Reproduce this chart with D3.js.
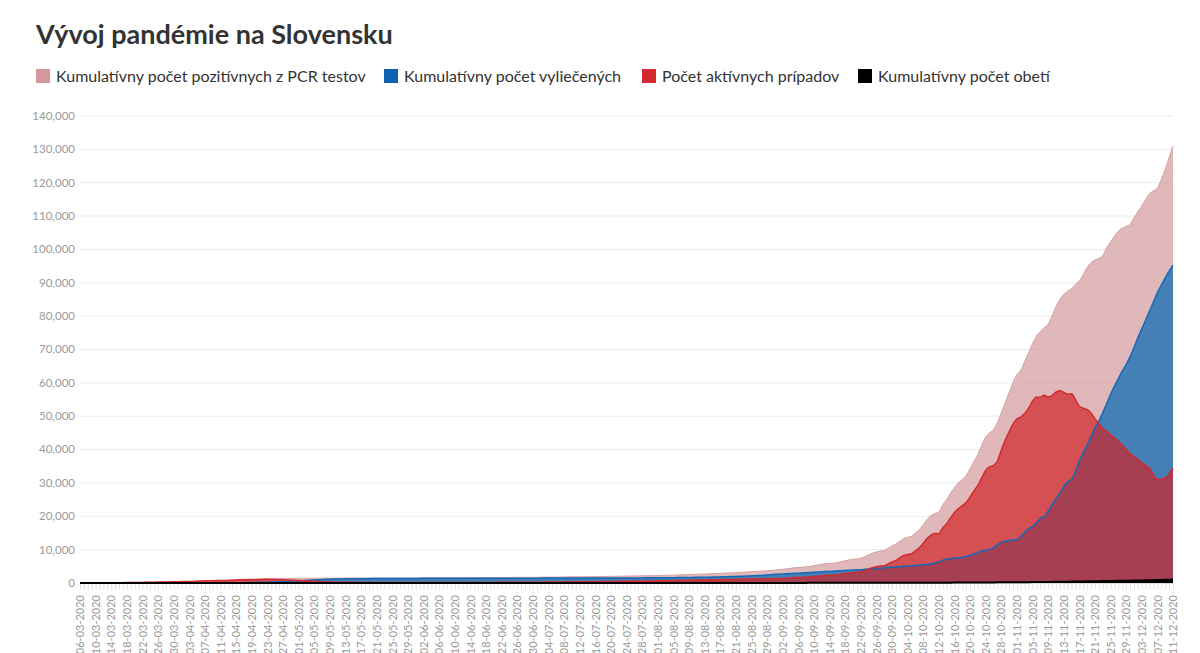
<!DOCTYPE html>
<html><head><meta charset="utf-8">
<script src="https://cdn.jsdelivr.net/npm/d3@7"></script>
<style>
body{margin:0;background:#fff;}
svg text{font-family:Lato,"Noto Sans",sans-serif;}
</style></head>
<body><svg id="chart" width="1200" height="653"></svg>
<script>
const titleText = "Vývoj pandémie na Slovensku";
const seriesNames = ["Kumulatívny počet pozitívnych z PCR testov","Kumulatívny počet vyliečených","Počet aktívnych prípadov","Kumulatívny počet obetí"];
const seriesColors = ["#d49a9c","#0f6db3","#ce2326","#000000"];
const legendColors = ["#d4979b","#0d62b3","#d42a2e","#000000"];
const yTicks = [0,10000,20000,30000,40000,50000,60000,70000,80000,90000,100000,110000,120000,130000,140000];
// daily categories 06-03-2020 .. 11-12-2020
const dates = d3.timeDay.range(new Date(2020,2,6), new Date(2020,11,12)).map(d3.timeFormat("%d-%m-%Y"));

const positive = [
1,3,5,7,7,10,21,32,44,61,72,105,123,137,178,185,186,204,216,226,269,292,314,336,363,400,
426,450,471,485,534,581,682,701,715,728,742,769,835,863,977,1045,1089,1161,1173,1199,1244,1325,1360,1373,1379,1381,1384,1391,1396,1403,
1408,1413,1421,1429,1437,1445,1455,1455,1457,1457,1465,1469,1480,1493,1495,1496,1502,1503,1504,1509,1511,1513,1513,1515,1515,1520,1520,1521,1522,1522,1528,
1530,1531,1531,1533,1535,1537,1541,1545,1552,1552,1556,1561,1565,1572,1589,1590,1597,1605,1616,1630,1643,1650,1657,1667,1677,1687,1690,1695,1698,1700,
1720,1730,1750,1765,1770,1780,1800,1820,1850,1860,1870,1880,1890,1900,1902,1930,1950,1960,1980,2000,2010,2030,2050,2080,2100,2120,2130,2150,2170,2180,2200,
2220,2250,2280,2320,2360,2400,2450,2500,2540,2580,2620,2660,2700,2750,2800,2850,2900,2950,3000,3050,3100,3180,3250,3320,3400,3460,3530,3600,3680,3780,3900,
4000,4100,4250,4400,4550,4650,4700,4850,5000,5200,5400,5600,5800,5850,5950,6150,6400,6650,6900,7100,7200,7400,7900,8400,8900,9300,9600,9750,10400,11100,
11700,12500,13300,13700,14000,15000,16000,17500,19000,20200,20800,21300,23400,25000,26900,28600,30000,31000,32200,34200,36400,38500,41300,43700,45000,46000,48100,51000,54000,57000,60000,
62400,63800,66300,69000,71700,74000,75400,76500,77600,80000,82800,85000,86500,87500,88200,89500,90600,92500,94500,96000,96800,97300,98200,100500,102200,104000,105500,106400,106900,107500,
109500,111300,113000,115000,116700,117600,118400,121000,124000,127500,131000
];
const recovered = [
0,0,0,0,0,0,0,0,0,0,0,0,0,0,0,0,0,0,2,2,2,2,3,3,3,3,
3,3,7,7,7,7,7,7,10,10,17,22,28,34,42,53,114,170,185,217,221,229,252,311,340,380,426,470,520,580,
640,700,780,850,920,980,1040,1090,1140,1180,1210,1230,1250,1260,1270,1280,1290,1300,1310,1320,1330,1340,1345,1350,1355,1360,1365,1370,1375,1380,1385,
1386,1388,1390,1392,1394,1396,1398,1400,1402,1404,1406,1408,1410,1412,1414,1416,1418,1420,1422,1424,1426,1428,1430,1433,1436,1440,1444,1448,1452,1456,
1460,1462,1464,1466,1468,1470,1472,1474,1476,1478,1480,1482,1484,1486,1488,1490,1492,1494,1496,1498,1500,1505,1510,1515,1520,1525,1530,1535,1540,1545,1550,
1560,1570,1580,1590,1600,1615,1630,1645,1660,1680,1700,1720,1740,1760,1790,1820,1850,1880,1910,1940,1980,2020,2060,2100,2150,2200,2250,2300,2400,2500,2600,
2650,2700,2760,2830,2900,2950,3000,3080,3150,3220,3300,3380,3430,3480,3550,3620,3700,3760,3830,3900,3950,4000,4100,4200,4300,4400,4450,4550,4650,4750,
4850,4900,5000,5100,5150,5250,5400,5500,5600,5750,5900,6400,6800,7100,7300,7450,7600,7750,7900,8300,8700,9100,9600,9800,10000,10600,11400,12100,12500,12700,12850,
13000,13900,15200,16300,16900,18000,19400,19900,21500,23500,25200,27000,28900,30400,31000,33500,36500,39000,41300,43800,46500,48500,51000,53800,56500,59000,61200,63500,65500,67800,
70500,73500,76200,78800,81500,84300,87000,89300,91500,93500,95300
];
const active = [
1,3,5,7,7,10,21,32,44,61,72,105,123,137,178,185,186,204,214,224,267,290,311,333,359,396,
422,446,463,477,526,573,674,692,703,716,723,745,805,827,933,990,969,980,976,969,1009,1082,1093,1047,1022,984,940,903,858,805,
750,695,619,556,493,440,390,339,291,250,228,212,203,206,198,189,184,175,166,161,153,145,140,137,132,132,127,123,119,114,115,
116,115,113,113,113,113,115,117,122,120,122,125,127,132,147,146,151,157,166,178,189,194,199,206,213,219,218,219,218,216,
232,240,258,271,274,282,300,318,346,354,362,370,378,386,386,412,430,438,456,474,481,496,511,536,550,565,570,584,599,604,619,
629,649,669,699,729,753,788,823,848,868,888,908,928,958,978,997,1017,1037,1057,1077,1087,1127,1157,1187,1217,1227,1247,1267,1247,1247,1267,
1317,1366,1455,1535,1614,1664,1663,1733,1812,1942,2061,2180,2329,2328,2357,2486,2655,2844,3022,3150,3199,3348,3747,4146,4545,4844,5093,5142,5690,6288,
6786,7534,8232,8530,8778,9675,10522,11918,13314,14360,14806,14802,16498,17793,19488,21033,22278,23122,24166,25760,27553,29246,31539,33732,34824,35216,36508,39800,42800,45300,47600,
49200,49700,50800,52400,54500,55700,55700,56300,55800,56200,57200,57600,57200,56600,56700,55000,53000,52400,52000,51000,49200,47800,46200,45500,44400,43500,42500,41300,40000,38700,
38000,37000,36000,35200,34300,32400,31000,31100,31500,32600,34400
];
const deaths = [
0,0,0,0,0,0,0,0,0,0,0,0,0,0,0,0,0,0,0,0,0,0,0,0,1,1,
1,1,1,1,1,1,1,2,2,2,2,2,2,2,2,2,6,11,12,13,14,14,15,15,17,17,18,18,18,18,
18,18,22,23,24,25,25,26,26,27,27,27,27,27,27,27,28,28,28,28,28,28,28,28,28,28,28,28,28,28,28,
28,28,28,28,28,28,28,28,28,28,28,28,28,28,28,28,28,28,28,28,28,28,28,28,28,28,28,28,28,28,
28,28,28,28,28,28,28,28,28,28,28,28,28,28,28,28,28,28,28,28,29,29,29,29,30,30,30,31,31,31,31,
31,31,31,31,31,32,32,32,32,32,32,32,32,32,32,33,33,33,33,33,33,33,33,33,33,33,33,33,33,33,33,
33,34,35,35,36,36,37,37,38,38,39,40,41,42,43,44,45,46,48,50,51,52,53,54,55,56,57,58,60,62,
64,66,68,70,72,75,78,82,86,90,94,98,102,107,112,117,122,128,134,140,147,154,161,168,176,184,192,200,208,216,224,
232,241,251,262,274,287,300,313,327,342,357,372,388,404,420,437,454,471,489,507,525,544,563,582,602,622,642,663,684,705,
727,752,778,805,833,862,892,923,955,990,1030
];

const svg = d3.select("#chart");
const x = d3.scalePoint().domain(dates).range([80, 1173]);
const y = d3.scaleLinear().domain([0, 140000]).range([583, 116]);

function fitWidth(sel, target){
  const w = sel.node().getComputedTextLength();
  const fs = parseFloat(sel.attr("font-size"));
  sel.attr("font-size", fs * target / w);
  return fs * target / w;
}

// title
const t = svg.append("text").attr("x", 36).attr("y", 44)
  .attr("font-size", 27).attr("font-weight", 700).attr("fill", "#333").text(titleText);
fitWidth(t, 357);

// legend
const legendX = [36, 384, 642, 858];
const lg = svg.append("g");
let legendFs = 16;
seriesNames.forEach((name, i) => {
  lg.append("rect").attr("x", legendX[i]).attr("y", 69).attr("width", 14).attr("height", 14)
    .attr("fill", legendColors[i]);
  const tx = lg.append("text").attr("x", legendX[i] + 20).attr("y", 82)
    .attr("font-size", legendFs).attr("fill", "#333").text(name);
  if (i === 0) legendFs = fitWidth(tx, 310); else tx.attr("font-size", legendFs);
});

// grid + y labels
const grid = svg.append("g");
yTicks.forEach(v => {
  grid.append("line").attr("x1", 80).attr("x2", 1173).attr("y1", y(v)).attr("y2", y(v))
    .attr("stroke", v === 0 ? "#bbb" : "#ebebeb").attr("stroke-width", 1);
  grid.append("text").attr("x", 75).attr("y", y(v)).attr("dy", "0.34em")
    .attr("text-anchor", "end").attr("font-size", 11.5).attr("fill", "#9a9a9a")
    .text(d3.format(",")(v));
});

// x axis
const xAxis = d3.axisBottom(x).tickSize(6)
  .tickFormat((d, i) => i % 4 === 0 ? d : "");
const gx = svg.append("g").attr("transform", "translate(0,584)").call(xAxis);
gx.select(".domain").remove();
gx.selectAll(".tick line").attr("stroke", "#e2e2e2");
gx.selectAll(".tick text").attr("fill", "#9a9a9a").attr("font-size", 11)
  .attr("font-family", "Lato,'Noto Sans',sans-serif")
  .attr("transform", "rotate(-90)").attr("text-anchor", "end")
  .attr("x", -11).attr("y", 0).attr("dy", "0.34em");

// areas
const series = [positive, recovered, active, deaths];
const area = d3.area().x((d, i) => x(dates[i])).y0(y(0)).y1(d => y(d)).curve(d3.curveMonotoneX);
const line = d3.line().x((d, i) => x(dates[i])).y(d => y(d)).curve(d3.curveMonotoneX);
const opac = [0.7, 0.75, 0.7, 1];
series.forEach((s, i) => {
  svg.append("path").datum(s).attr("d", area).attr("fill", seriesColors[i]).attr("fill-opacity", opac[i]);
});
const lineColors = ["#d7a0a2", "#1468b8", "#d42a2e", "#000"];
const lineW = [1, 1.5, 1.5, 2];
series.forEach((s, i) => {
  svg.append("path").datum(s).attr("d", line).attr("fill", "none")
    .attr("stroke", lineColors[i]).attr("stroke-width", lineW[i]);
});
</script>
</body></html>
